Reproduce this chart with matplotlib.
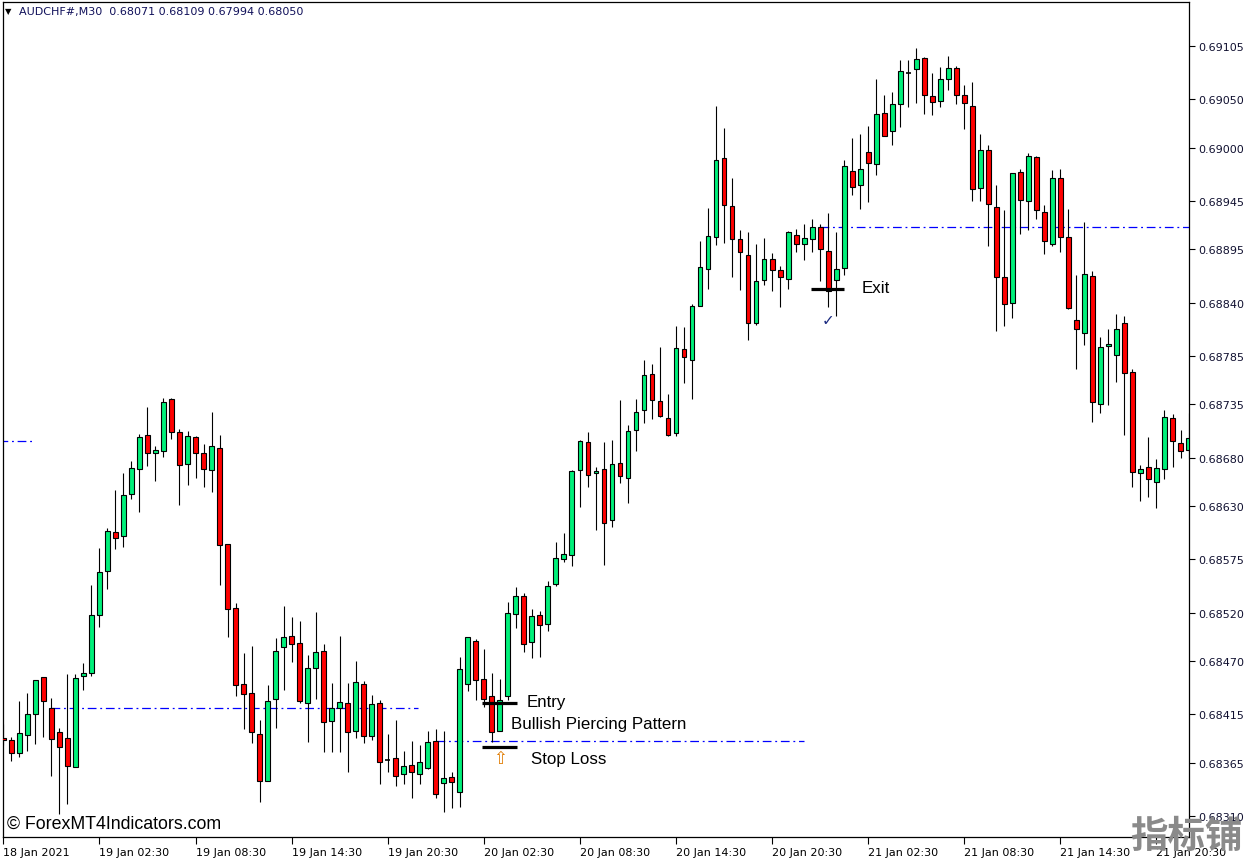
import matplotlib.pyplot as plt
from matplotlib.patches import Rectangle

# AUDCHF M30 candles, 18 Jan 20:30 onwards
opens = [0.68390, 0.68388, 0.68375, 0.68394, 0.68415, 0.68453, 0.68421, 0.68397, 0.68391, 0.68361,
         0.68455, 0.68458, 0.68517, 0.68563, 0.68603, 0.68599, 0.68642, 0.68668, 0.68703, 0.68685,
         0.68687, 0.68741, 0.68706, 0.68673, 0.68701, 0.68685, 0.68667, 0.68690, 0.68591, 0.68525,
         0.68446, 0.68437, 0.68395, 0.68346, 0.68431, 0.68484, 0.68496, 0.68489, 0.68427, 0.68463,
         0.68480, 0.68408, 0.68422, 0.68427, 0.68398, 0.68446, 0.68393, 0.68427, 0.68368, 0.68370,
         0.68353, 0.68363, 0.68353, 0.68360, 0.68387, 0.68344, 0.68350, 0.68335, 0.68446, 0.68491,
         0.68451, 0.68434, 0.68398, 0.68434, 0.68519, 0.68537, 0.68490, 0.68518, 0.68508, 0.68549,
         0.68575, 0.68579, 0.68667, 0.68696, 0.68664, 0.68668, 0.68616, 0.68674, 0.68659, 0.68708,
         0.68729, 0.68766, 0.68738, 0.68721, 0.68705, 0.68792, 0.68781, 0.68837, 0.68875, 0.68908,
         0.68989, 0.68940, 0.68906, 0.68889, 0.68819, 0.68863, 0.68885, 0.68874, 0.68864, 0.68910,
         0.68901, 0.68906, 0.68918, 0.68893, 0.68863, 0.68876, 0.68976, 0.68961, 0.68996, 0.68983,
         0.69036, 0.69017, 0.69045, 0.69077, 0.69081, 0.69093, 0.69053, 0.69048, 0.69071, 0.69082,
         0.69054, 0.69043, 0.68958, 0.68998, 0.68939, 0.68866, 0.68840, 0.68975, 0.68945, 0.68990,
         0.68934, 0.68901, 0.68969, 0.68908, 0.68822, 0.68809, 0.68868, 0.68735, 0.68795, 0.68786,
         0.68819, 0.68768, 0.68664, 0.68670, 0.68655, 0.68668, 0.68721, 0.68695, 0.68688]
highs = [0.68405, 0.68392, 0.68429, 0.68437, 0.68450, 0.68453, 0.68432, 0.68401, 0.68457, 0.68457,
         0.68468, 0.68548, 0.68587, 0.68607, 0.68647, 0.68664, 0.68677, 0.68704, 0.68732, 0.68692,
         0.68742, 0.68742, 0.68710, 0.68707, 0.68702, 0.68694, 0.68727, 0.68703, 0.68591, 0.68530,
         0.68478, 0.68486, 0.68409, 0.68445, 0.68494, 0.68527, 0.68515, 0.68511, 0.68476, 0.68521,
         0.68488, 0.68447, 0.68496, 0.68447, 0.68470, 0.68449, 0.68435, 0.68430, 0.68395, 0.68409,
         0.68377, 0.68387, 0.68383, 0.68398, 0.68400, 0.68398, 0.68355, 0.68474, 0.68495, 0.68493,
         0.68482, 0.68458, 0.68451, 0.68531, 0.68546, 0.68540, 0.68524, 0.68522, 0.68553, 0.68593,
         0.68602, 0.68667, 0.68698, 0.68706, 0.68670, 0.68696, 0.68698, 0.68739, 0.68714, 0.68741,
         0.68781, 0.68777, 0.68794, 0.68746, 0.68816, 0.68815, 0.68839, 0.68904, 0.68938, 0.69043,
         0.69020, 0.68969, 0.68915, 0.68913, 0.68901, 0.68907, 0.68891, 0.68878, 0.68914, 0.68916,
         0.68921, 0.68926, 0.68921, 0.68933, 0.68913, 0.68987, 0.69010, 0.69014, 0.69022, 0.69071,
         0.69054, 0.69057, 0.69091, 0.69091, 0.69103, 0.69094, 0.69077, 0.69083, 0.69095, 0.69084,
         0.69065, 0.69068, 0.69014, 0.69003, 0.68961, 0.68936, 0.68974, 0.68978, 0.68995, 0.68991,
         0.68941, 0.68977, 0.68978, 0.68937, 0.68869, 0.68923, 0.68873, 0.68805, 0.68813, 0.68828,
         0.68826, 0.68771, 0.68672, 0.68701, 0.68679, 0.68729, 0.68725, 0.68708, 0.68726]
lows = [0.68383, 0.68367, 0.68371, 0.68377, 0.68384, 0.68392, 0.68351, 0.68312, 0.68322, 0.68361,
        0.68440, 0.68455, 0.68505, 0.68544, 0.68586, 0.68588, 0.68637, 0.68624, 0.68671, 0.68656,
        0.68681, 0.68699, 0.68631, 0.68652, 0.68659, 0.68650, 0.68644, 0.68548, 0.68495, 0.68434,
        0.68400, 0.68385, 0.68324, 0.68346, 0.68401, 0.68440, 0.68469, 0.68427, 0.68386, 0.68431,
        0.68376, 0.68376, 0.68376, 0.68355, 0.68391, 0.68385, 0.68388, 0.68343, 0.68355, 0.68341,
        0.68343, 0.68329, 0.68343, 0.68358, 0.68329, 0.68314, 0.68318, 0.68319, 0.68439, 0.68430,
        0.68423, 0.68386, 0.68398, 0.68430, 0.68504, 0.68479, 0.68473, 0.68474, 0.68501, 0.68547,
        0.68572, 0.68568, 0.68629, 0.68650, 0.68605, 0.68569, 0.68608, 0.68654, 0.68633, 0.68687,
        0.68716, 0.68720, 0.68722, 0.68702, 0.68702, 0.68757, 0.68740, 0.68837, 0.68854, 0.68899,
        0.68902, 0.68866, 0.68853, 0.68801, 0.68817, 0.68858, 0.68852, 0.68836, 0.68854, 0.68892,
        0.68884, 0.68892, 0.68862, 0.68836, 0.68826, 0.68869, 0.68951, 0.68937, 0.68944, 0.68972,
        0.69012, 0.69003, 0.69021, 0.69042, 0.69046, 0.69035, 0.69034, 0.69042, 0.69060, 0.69045,
        0.69019, 0.68945, 0.68945, 0.68898, 0.68811, 0.68816, 0.68824, 0.68911, 0.68915, 0.68926,
        0.68890, 0.68898, 0.68892, 0.68833, 0.68771, 0.68796, 0.68717, 0.68726, 0.68734, 0.68758,
        0.68703, 0.68650, 0.68635, 0.68639, 0.68628, 0.68658, 0.68670, 0.68680, 0.68680]
closes = [0.68388, 0.68375, 0.68396, 0.68415, 0.68450, 0.68429, 0.68389, 0.68381, 0.68362, 0.68452,
          0.68458, 0.68517, 0.68562, 0.68604, 0.68597, 0.68641, 0.68669, 0.68701, 0.68685, 0.68688,
          0.68737, 0.68706, 0.68672, 0.68702, 0.68685, 0.68668, 0.68692, 0.68590, 0.68524, 0.68445,
          0.68436, 0.68397, 0.68346, 0.68429, 0.68480, 0.68495, 0.68488, 0.68429, 0.68463, 0.68479,
          0.68407, 0.68421, 0.68428, 0.68397, 0.68448, 0.68393, 0.68426, 0.68366, 0.68368, 0.68351,
          0.68362, 0.68355, 0.68366, 0.68386, 0.68333, 0.68349, 0.68345, 0.68462, 0.68495, 0.68450,
          0.68431, 0.68397, 0.68430, 0.68520, 0.68537, 0.68488, 0.68516, 0.68507, 0.68547, 0.68576,
          0.68580, 0.68666, 0.68697, 0.68662, 0.68666, 0.68613, 0.68673, 0.68661, 0.68707, 0.68727,
          0.68765, 0.68739, 0.68723, 0.68703, 0.68793, 0.68784, 0.68837, 0.68877, 0.68909, 0.68987,
          0.68941, 0.68906, 0.68892, 0.68819, 0.68862, 0.68885, 0.68874, 0.68866, 0.68913, 0.68901,
          0.68907, 0.68918, 0.68895, 0.68852, 0.68875, 0.68981, 0.68959, 0.68978, 0.68984, 0.69035,
          0.69012, 0.69045, 0.69079, 0.69077, 0.69092, 0.69054, 0.69047, 0.69071, 0.69082, 0.69054,
          0.69046, 0.68957, 0.68998, 0.68942, 0.68866, 0.68839, 0.68974, 0.68946, 0.68991, 0.68936,
          0.68904, 0.68969, 0.68908, 0.68834, 0.68813, 0.68870, 0.68737, 0.68794, 0.68797, 0.68813,
          0.68767, 0.68665, 0.68668, 0.68658, 0.68669, 0.68722, 0.68697, 0.68687, 0.68700]

time_labels = ['18 Jan 2021', '19 Jan 02:30', '19 Jan 08:30', '19 Jan 14:30', '19 Jan 20:30',
               '20 Jan 02:30', '20 Jan 08:30', '20 Jan 14:30', '20 Jan 20:30', '21 Jan 02:30',
               '21 Jan 08:30', '21 Jan 14:30', '21 Jan 20:30']
time_ticks = [0, 12, 24, 36, 48, 60, 72, 84, 96, 108, 120, 132, 144]
price_ticks = [0.69105, 0.69050, 0.69000, 0.68945, 0.68895, 0.68840, 0.68785, 0.68735,
               0.68680, 0.68630, 0.68575, 0.68520, 0.68470, 0.68415, 0.68365, 0.68310]

# dash-dot levels: price, first bar, last bar
level_prices = [0.68697, 0.68421, 0.68387, 0.68918]
level_start = [-1, 6, 54, 102]
level_end = [4, 51.8, 100, 149]

signal_bar = 62
entry_price = 0.68427
stop_price = 0.68381
exit_bar = 103
exit_price = 0.68854

fig = plt.figure(figsize=(12.53, 8.62), dpi=100)
ax = fig.add_axes([3 / 1253, 24 / 862, 1186 / 1253, 835 / 862])

n = len(opens)
xs = list(range(n))
ax.vlines(xs, lows, highs, color='black', lw=0.8, zorder=2)
for i in xs:
    o, c = opens[i], closes[i]
    if c == o:
        ax.hlines(o, i - 0.3, i + 0.3, color='black', lw=1.2, zorder=3)
        continue
    col = '#00F07A' if c > o else '#FF0000'
    ax.add_patch(Rectangle((i - 0.3, min(o, c)), 0.6, abs(c - o), facecolor=col,
                           edgecolor='black', lw=0.8, zorder=3))

for p, s, e in zip(level_prices, level_start, level_end):
    ax.hlines(p, s, e, color='#0000FF', lw=0.9, linestyles=(0, (7, 3, 1.5, 3)), zorder=1)

ax.hlines([entry_price, stop_price], signal_bar - 2.2, signal_bar + 2.2, color='black', lw=2.3, zorder=4)
ax.hlines(exit_price, exit_bar - 2.2, exit_bar + 2.0, color='black', lw=2.3, zorder=4)

tf = dict(family='Liberation Sans', fontsize=12.2, color='black', va='center', ha='left')
ax.text(65.4, 0.68428, 'Entry', **tf)
ax.text(63.4, 0.68405, 'Bullish Piercing Pattern', **tf)
ax.text(65.9, 0.68369, 'Stop Loss', **tf)
ax.text(107.2, 0.68856, 'Exit', **tf)
ax.text(signal_bar, 0.68370, '\u21e7', fontsize=12, color='#E07B00', ha='center', va='center')
ax.text(exit_bar, 0.68823, '\u2713', fontsize=11, color='#1a2a80', ha='center', va='center')

ax.set_xlim(-0.04, 148.06)
ax.set_ylim(0.682883, 0.691504)

ax.yaxis.tick_right()
ax.set_yticks(price_ticks)
ax.set_yticklabels(['%.5f' % v for v in price_ticks])
ax.tick_params(axis='y', direction='out', length=4, width=0.8, pad=3, labelsize=8,
               labelcolor='#101030')
ax.set_xticks(time_ticks)
ax.set_xticklabels(time_labels, ha='left')
ax.tick_params(axis='x', direction='out', length=5, width=0.8, pad=2, labelsize=8)
for sp in ax.spines.values():
    sp.set_linewidth(0.9)
    sp.set_color('black')

fig.text(5 / 1253, 1 - 12 / 862, '\u25bc', fontsize=6, color='black', va='center')
fig.text(19 / 1253, 1 - 12 / 862, 'AUDCHF#,M30  0.68071 0.68109 0.67994 0.68050',
         fontsize=8, color='#10105a', va='center')
fig.text(7 / 1253, 1 - 824 / 862, '\u00a9 ForexMT4Indicators.com', family='Liberation Sans',
         fontsize=12.8, color='black', va='center')
fig.text(1130 / 1253, 1 - 836 / 862, '指标铺', family=['Noto Sans CJK SC', 'DejaVu Sans'],
         fontsize=27, fontweight='bold', color='#8a8a8a', va='center')

fig.savefig('out.png', dpi=100, facecolor='white')
